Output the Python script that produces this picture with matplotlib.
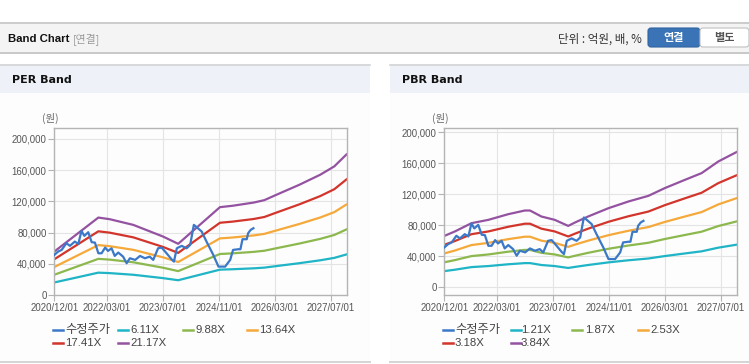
import matplotlib
matplotlib.use("Agg")
import matplotlib.pyplot as plt
import matplotlib.dates as mdates
from matplotlib.patches import Rectangle, FancyBboxPatch
from matplotlib.lines import Line2D
from matplotlib.ticker import FuncFormatter
import pandas as pd

W, H = 749, 364
KR = ["Noto Sans CJK KR", "DejaVu Sans"]
LAT = ["Liberation Sans", "DejaVu Sans"]

# adjusted close (수정주가), shared by both charts
price_dates = [
    "2020-12-01", "2021-01-04", "2021-02-03", "2021-03-16", "2021-04-16", "2021-05-28",
    "2021-06-28", "2021-07-25", "2021-08-19", "2021-09-22", "2021-10-22", "2021-11-19",
    "2021-12-19", "2022-01-16", "2022-02-16", "2022-03-13", "2022-04-13", "2022-05-10",
    "2022-06-10", "2022-07-22", "2022-08-22", "2022-09-19", "2022-11-04", "2022-12-16",
    "2023-01-28", "2023-03-10", "2023-04-10", "2023-05-22", "2023-06-22", "2023-08-04",
    "2023-09-16", "2023-10-07", "2023-11-01", "2023-12-13", "2024-01-25", "2024-02-25",
    "2024-03-28", "2024-04-22", "2024-06-04", "2024-07-16", "2024-09-13", "2024-10-28",
    "2024-12-25", "2025-02-07", "2025-03-04", "2025-04-19", "2025-05-07", "2025-05-25",
    "2025-07-01", "2025-07-13", "2025-08-04", "2025-08-28",
]
price = [
    51400, 55700, 57800, 66400, 63000, 68500,
    65500, 82200, 75800, 80500, 67700, 67200,
    53500, 53500, 60800, 56500, 59900, 50100,
    54400, 49200, 40700, 47100, 45000, 50100,
    47100, 49200, 45000, 59900, 60800, 53500,
    45800, 42800, 59900, 63000, 59900, 64200,
    89900, 86900, 81400, 68500, 51400, 36400,
    36400, 45000, 57800, 58700, 58700, 71500,
    71500, 79200, 83500, 85600,
]

# EPS behind the PER band
eps_dates = [
    "2020-12-01", "2021-12-19", "2022-03-28", "2022-10-19", "2023-07-04", "2023-11-13",
    "2024-11-10", "2025-03-01", "2025-09-01", "2025-12-01", "2026-03-16", "2026-10-01",
    "2027-04-01", "2027-08-01", "2027-11-22",
]
eps = [2630, 4690, 4590, 4245, 3540, 3100,
       5320, 5405, 5600, 5745, 6070, 6675,
       7285, 7790, 8560]
per_multiples = [6.11, 9.88, 13.64, 17.41, 21.17]

# BPS behind the PBR band
bps_dates = [
    "2020-12-01", "2021-03-01", "2021-07-25", "2021-12-19", "2022-06-10", "2022-11-01",
    "2022-12-16", "2023-03-25", "2023-07-19", "2023-11-13", "2024-01-10", "2024-05-04",
    "2024-10-28", "2025-04-19", "2025-10-10", "2026-03-01", "2026-08-25", "2027-01-16",
    "2027-06-10", "2027-11-22",
]
bps = [17240, 18700, 21510, 22630, 24530, 25760,
       25760, 23750, 22630, 20600, 21720, 23750,
       26540, 28780, 30680, 33260, 36070, 38310,
       42210, 45500]
pbr_multiples = [1.21, 1.87, 2.53, 3.18, 3.84]

x_ticks = ["2020-12-01", "2022-03-01", "2023-07-01", "2024-11-01", "2026-03-01", "2027-07-01"]
y_ticks = [0, 40000, 80000, 120000, 160000, 200000]

price_color = "#3b78c8"
band_colors = ["#1fb4c6", "#8cb84e", "#f5a93a", "#d2352b", "#9453a1"]


def fx(x):
    return x / W


def fy(y):
    return 1 - y / H


fig = plt.figure(figsize=(W / 100, H / 100), dpi=100)
fig.patch.set_facecolor("white")


def rect(x0, y0, x1, y1, **kw):
    fig.patches.append(Rectangle((fx(x0), fy(y1)), fx(x1) - fx(x0), fy(y0) - fy(y1),
                                 transform=fig.transFigure, zorder=-3, **kw))


def hline(x0, x1, y, color, lw=1.0):
    fig.lines.append(Line2D([fx(x0), fx(x1)], [fy(y), fy(y)], transform=fig.transFigure,
                            color=color, lw=lw, zorder=-2))


# top header bar
rect(0, 22, W, 52, facecolor="#f4f4f4", edgecolor="none")
hline(0, W, 22.5, "#c4c4c4", 1.2)
hline(0, W, 52.5, "#c8c8c8", 1.4)
fig.text(fx(8), fy(39), "Band Chart", family=LAT, weight="bold", fontsize=8.2,
         va="center", color="#111")
fig.text(fx(73), fy(39), "[연결]", family=KR, fontsize=7.8, va="center", color="#999")
fig.text(fx(642), fy(39), "단위 : 억원, 배, %", family=KR, fontsize=8.3, va="center",
         ha="right", color="#333")
btn = FancyBboxPatch((648 / 100, (H - 47) / 100), 52 / 100, 19 / 100,
                     boxstyle="round,pad=0,rounding_size=0.03", transform=fig.dpi_scale_trans,
                     facecolor="#3a74b6", edgecolor="#2f64a2", lw=0.8)
fig.patches.append(btn)
btn2 = FancyBboxPatch((700 / 100, (H - 47) / 100), 49 / 100, 19 / 100,
                      boxstyle="round,pad=0,rounding_size=0.03", transform=fig.dpi_scale_trans,
                      facecolor="white", edgecolor="#c0c0c0", lw=0.8)
fig.patches.append(btn2)
fig.text(fx(674), fy(38), "연결", family=KR, fontsize=8, weight="bold", va="center",
         ha="center", color="white")
fig.text(fx(724), fy(38), "별도", family=KR, fontsize=8, weight="bold", va="center",
         ha="center", color="#555")


def draw_panel(px0, px1, title, base_dates, base, multiples, ylim, leg_handles, leg_texts):
    rect(px0, 64, px1, 362, facecolor="#fdfdfd", edgecolor="none")
    rect(px0, 64, px1, 93, facecolor="#eef2f8", edgecolor="none")
    hline(px0, px1, 64.5, "#d4d4d4", 1.2)
    hline(px0, px1, 362, "#d4d4d4", 1.4)
    fig.text(fx(px0 + 12), fy(80), title, weight="bold", fontsize=8, va="center", color="#111")

    ax_left = px0 + 54.3
    ax = fig.add_axes([fx(ax_left), fy(295), 293 / W, (295 - 128) / H])
    ax.set_facecolor("#fdfdfd")
    bd = pd.to_datetime(base_dates)
    for m, c in zip(multiples, band_colors):
        ax.plot(bd, [v * m for v in base], color=c, lw=1.6, solid_capstyle="butt")
    ax.plot(pd.to_datetime(price_dates), price, color=price_color, lw=1.6, zorder=5)

    ax.set_xlim(pd.Timestamp("2020-12-01"), pd.Timestamp("2027-11-22"))
    ax.set_ylim(*ylim)
    ax.set_xticks(pd.to_datetime(x_ticks))
    ax.xaxis.set_major_formatter(mdates.DateFormatter("%Y/%m/%d"))
    ax.set_yticks(y_ticks)
    ax.yaxis.set_major_formatter(FuncFormatter(lambda v, p: f"{int(v):,}"))
    ax.grid(True, color="#e4e4e4", lw=0.8)
    ax.set_axisbelow(True)
    for s in ax.spines.values():
        s.set_color("#b4b4b4")
        s.set_linewidth(1.0)
    ax.tick_params(axis="both", colors="#b4b4b4", labelcolor="#555", labelsize=6.9,
                   length=4, width=0.8, pad=1.5)
    for t in ax.get_xticklabels() + ax.get_yticklabels():
        t.set_family(LAT)
    ax.text(-0.015, 1.06, "(원)", transform=ax.transAxes, family=KR, fontsize=7.5,
            color="#666", ha="center", va="center")

    labels = ["수정주가"] + [f"{m:.2f}X" for m in multiples]
    colors = [price_color] + band_colors
    rows = [330, 330, 330, 330, 343, 343]
    for i, (lab, c) in enumerate(zip(labels, colors)):
        hx = leg_handles[i]
        tx = leg_texts[i]
        y = rows[i]
        fig.lines.append(Line2D([fx(px0 + hx), fx(px0 + hx + 10)], [fy(y), fy(y)],
                                transform=fig.transFigure, color=c, lw=1.8))
        fig.text(fx(px0 + tx), fy(y), lab, family=KR if i == 0 else LAT,
                 fontsize=8.8 if i == 0 else 8.2, va="center", color="#444")
    return ax


draw_panel(0, 370, "PER Band", eps_dates, eps, per_multiples, (0, 214100),
           [53, 118, 183, 247, 53, 118], [65, 130, 195, 259, 65, 130])
draw_panel(390, W, "PBR Band", bps_dates, bps, pbr_multiples, (-9900, 205200),
           [53, 121, 182, 248, 53, 121], [65, 131, 195, 260, 65, 131])

fig.savefig("out.png", dpi=100, facecolor="white")
